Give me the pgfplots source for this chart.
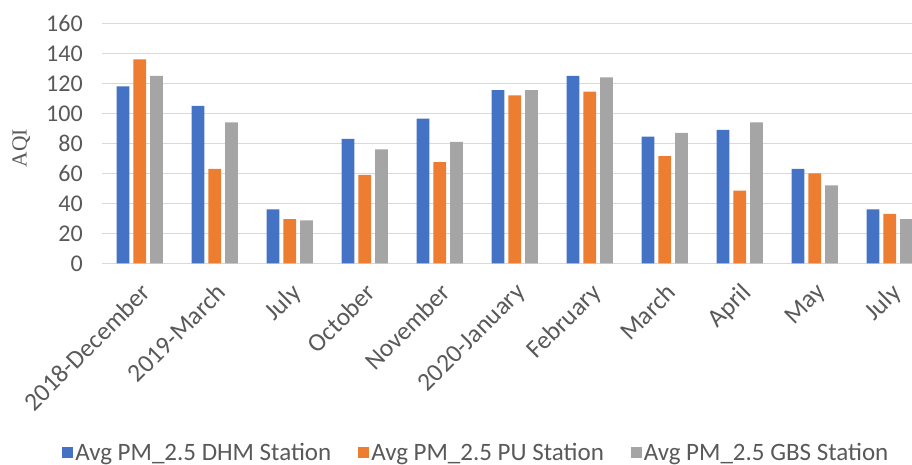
\documentclass[border=0pt]{standalone}
\usepackage{fontspec}
\setmainfont{Carlito}
\newfontfamily\serif{Liberation Serif}
\usepackage{pgfplots}
\pgfplotsset{compat=1.18}
\definecolor{cblue}{HTML}{4472C4}
\definecolor{corange}{HTML}{ED7D31}
\definecolor{cgray}{HTML}{A5A5A5}
\definecolor{gridc}{HTML}{D9D9D9}
\definecolor{txt}{HTML}{595959}
\begin{document}
\begin{tikzpicture}
\useasboundingbox (-102.2pt,-200.7pt) rectangle (809.8pt,263.3pt);
\begin{axis}[
  at={(0pt,0pt)}, anchor=south west,
  scale only axis, width=809.8pt, height=240pt,
  ybar=4pt, bar width=12.7pt,
  xmin=-0.5, xmax=10.297, ymin=0, ymax=160,
  ytick={0,20,...,160},
  xtick={0,...,10},
  xticklabels={2018-December,2019-March,July,October,November,2020-January,February,March,April,May,July},
  ymajorgrids, grid style={gridc, line width=1.5pt},
  axis line style={draw=none}, tick style={draw=none},
  /pgf/number format/assume math mode=true,
  tick label style={font=\fontsize{24}{28}\selectfont, text=txt},
  yticklabel style={xshift=-16pt},
  xticklabel style={font=\fontsize{25.5}{30}\selectfont, inner sep=0pt, xshift=0pt, yshift=-14pt, rotate=45, anchor=north east},
  ylabel={\serif AQI},
  ylabel style={at={(axis description cs:-0.1,0.48)}, anchor=center, font=\fontsize{21.5}{25}\selectfont, text=txt},
  legend style={at={(axis description cs:0.462,-0.79)}, anchor=center, draw=none, fill=none,
    legend columns=3, font=\fontsize{25}{29}\selectfont, text=txt,
    /tikz/every even column/.append style={column sep=25pt}},
  legend image code/.code={\fill[#1] (0pt,-5.5pt) rectangle (11pt,5.5pt);},
]
\addplot[fill=cblue, draw=none] coordinates {(0,118) (1,105) (2,36) (3,83) (4,96.5) (5,115.5) (6,125) (7,84.5) (8,89) (9,63) (10,36)};
\addplot[fill=corange, draw=none] coordinates {(0,136) (1,63) (2,29.5) (3,59) (4,67.5) (5,112) (6,114.5) (7,71.5) (8,48.5) (9,60) (10,33)};
\addplot[fill=cgray, draw=none] coordinates {(0,125) (1,94) (2,28.7) (3,76) (4,81) (5,115.5) (6,124) (7,87) (8,94) (9,52) (10,29.5)};
\legend{Avg PM\_2.5 DHM Station, Avg PM\_2.5 PU Station, Avg PM\_2.5 GBS Station}
\end{axis}
\end{tikzpicture}
\end{document}
